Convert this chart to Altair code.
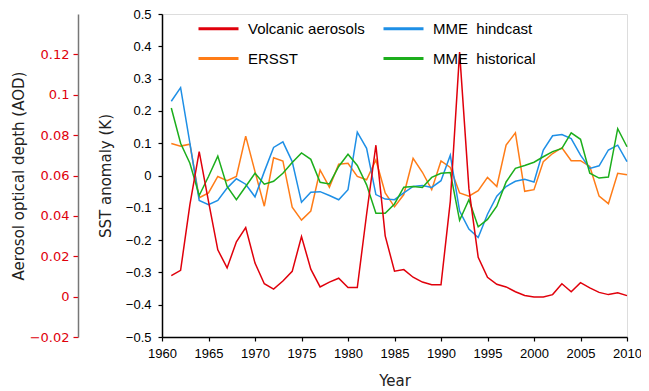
import altair as alt
import pandas as pd

years = list(range(1961, 2011))

# Volcanic aerosol optical depth (AOD, outer left scale)
volcanic_aod = [0.0104, 0.0130, 0.0456, 0.0718, 0.0472, 0.0232, 0.0142, 0.0272, 0.0342, 0.0166,
                0.0064, 0.0037, 0.0077, 0.0125, 0.0298, 0.0136, 0.0048, 0.0072, 0.0091, 0.0045,
                0.0045, 0.0408, 0.0750, 0.0301, 0.0126, 0.0134, 0.0096, 0.0072, 0.0059, 0.0059,
                0.0472, 0.1211, 0.0536, 0.0195, 0.0096, 0.0061, 0.0048, 0.0024, 0.0006, -0.0002,
                -0.0002, 0.0010, 0.0064, 0.0024, 0.0069, 0.0043, 0.0021, 0.0010, 0.0019, 0.0005]

ersst = [0.099, 0.091, 0.097, -0.069, -0.054, -0.003, -0.016, -0.003, 0.122, 0.012,
         -0.095, 0.055, 0.045, -0.098, -0.138, -0.11, 0.017, -0.036, 0.035, 0.038,
         -0.003, -0.013, 0.048, -0.054, -0.097, -0.059, 0.053, 0.01, -0.044, 0.045,
         0.025, -0.054, -0.064, -0.047, -0.006, -0.034, 0.094, 0.132, -0.049, -0.044,
         0.043, 0.068, 0.086, 0.046, 0.046, 0.028, -0.064, -0.087, 0.007, 0.002]

mme_hindcast = [0.23, 0.272, 0.1, -0.077, -0.09, -0.077, -0.039, -0.01, -0.027, -0.066,
                0.012, 0.087, 0.104, 0.043, -0.083, -0.052, -0.05, -0.062, -0.075, -0.044,
                0.134, 0.084, -0.059, -0.073, -0.075, -0.054, -0.034, -0.031, -0.037, -0.016,
                0.063, -0.11, -0.166, -0.192, -0.12, -0.064, -0.034, -0.018, -0.012, -0.02,
                0.079, 0.123, 0.127, 0.114, 0.063, 0.022, 0.03, 0.079, 0.094, 0.043]

mme_historical = [0.209, 0.1, 0.038, -0.062, -0.003, 0.06, -0.034, -0.075, -0.034, 0.007,
                  -0.027, -0.018, 0.007, 0.04, 0.07, 0.05, -0.021, -0.026, 0.028, 0.066,
                  0.031, -0.029, -0.117, -0.117, -0.088, -0.036, -0.034, -0.037, -0.006, 0.007,
                  0.009, -0.139, -0.075, -0.159, -0.136, -0.095, -0.02, 0.022, 0.031, 0.041,
                  0.058, 0.074, 0.084, 0.132, 0.112, 0.007, -0.008, -0.005, 0.145, 0.089]

# legend order (filled column by column): col 1 = Volcanic, ERSST ; col 2 = hindcast, historical
series_names = ["Volcanic aerosols", "ERSST", "MME\u00a0\u00a0hindcast", "MME\u00a0\u00a0historical"]
series_colors = ["#e0000b", "#ff7c17", "#1e8fe6", "#1cae1c"]

x_ticks = list(range(1960, 2011, 5))
sst_ticks = [-0.5, -0.4, -0.3, -0.2, -0.1, 0, 0.1, 0.2, 0.3, 0.4, 0.5]
aod_ticks = [-0.02, 0, 0.02, 0.04, 0.06, 0.08, 0.1, 0.12]

sst_df = pd.concat([
    pd.DataFrame({"year": years, "value": ersst, "series": series_names[1]}),
    pd.DataFrame({"year": years, "value": mme_hindcast, "series": series_names[2]}),
    pd.DataFrame({"year": years, "value": mme_historical, "series": series_names[3]}),
])
aod_df = pd.DataFrame({"year": years, "aod": volcanic_aod, "series": series_names[0]})

W, H = 465, 323

color = alt.Color(
    "series:N",
    scale=alt.Scale(domain=series_names, range=series_colors),
    legend=alt.Legend(
        title=None, orient="none", legendX=35, legendY=-7, columns=2, padding=0,
        symbolType="stroke", symbolSize=1600, symbolStrokeWidth=3,
        labelFont="Liberation Sans", labelFontSize=15, labelColor="#000",
        labelOffset=8, columnPadding=12, rowPadding=-21, labelLimit=300,
    ),
)

x_enc = alt.X(
    "year:Q",
    scale=alt.Scale(domain=[1960, 2010], nice=False, zero=False),
    axis=alt.Axis(
        values=x_ticks, format="d", title="Year", grid=False,
        labelFont="Liberation Sans", labelFontSize=13, labelColor="#000", labelPadding=6,
        tickSize=4, tickColor="#000", domainColor="#000", domainWidth=1.5, tickWidth=1.2,
        titleFont="DejaVu Sans", titleFontSize=15, titleFontWeight="normal", titleColor="#222",
        titleBaseline="middle", titleY=43, labelFlush=False,
    ),
)

sst = alt.Chart(sst_df).mark_line(strokeWidth=1.5).encode(
    x=x_enc,
    y=alt.Y(
        "value:Q",
        scale=alt.Scale(domain=[-0.5, 0.5], nice=False, zero=False),
        axis=alt.Axis(
            orient="left", values=sst_ticks, format=".1~f", title="SST anomaly (K)", grid=False,
            labelFont="Liberation Sans", labelFontSize=13, labelColor="#000", labelPadding=7,
            tickSize=4, tickColor="#000", domainColor="#000", domainWidth=1.5, tickWidth=1.2,
            titleFont="DejaVu Sans", titleFontSize=15, titleFontWeight="normal", titleColor="#222",
            titleX=-57, titleY=H / 2, titleAngle=270, titleAlign="center", titleBaseline="middle",
            labelFlush=False,
        ),
    ),
    color=color,
)

aod = alt.Chart(aod_df).mark_line(strokeWidth=1.5).encode(
    x=x_enc,
    y=alt.Y(
        "aod:Q",
        scale=alt.Scale(domain=[-0.02, 0.14], nice=False, zero=False),
        axis=alt.Axis(
            orient="left", offset=84, values=aod_ticks, format=".2~f",
            title="Aerosol optical depth (AOD)", grid=False,
            labelFont="DejaVu Sans", labelFontSize=13, labelColor="#e0000b", labelPadding=4,
            tickSize=5, tickColor="#e0000b", domainColor="#777", domainWidth=1.5, tickWidth=1.2,
            titleFont="DejaVu Sans", titleFontSize=15, titleFontWeight="normal", titleColor="#222",
            titleX=-60, titleY=H / 2, titleAngle=270, titleAlign="center", titleBaseline="middle",
            labelFlush=False,
        ),
    ),
    color=color,
)

chart = (
    alt.layer(sst, aod)
    .resolve_scale(y="independent")
    .properties(
        width=W, height=H,
        autosize=alt.AutoSizeParams(type="none"),
        padding={"left": 154, "top": 6, "right": 14, "bottom": 52},
    )
    .configure_view(stroke="#000", strokeWidth=1.5)
    .configure(background="white")
)

chart.save("out.html", embed_options={"renderer": "svg", "actions": False})
